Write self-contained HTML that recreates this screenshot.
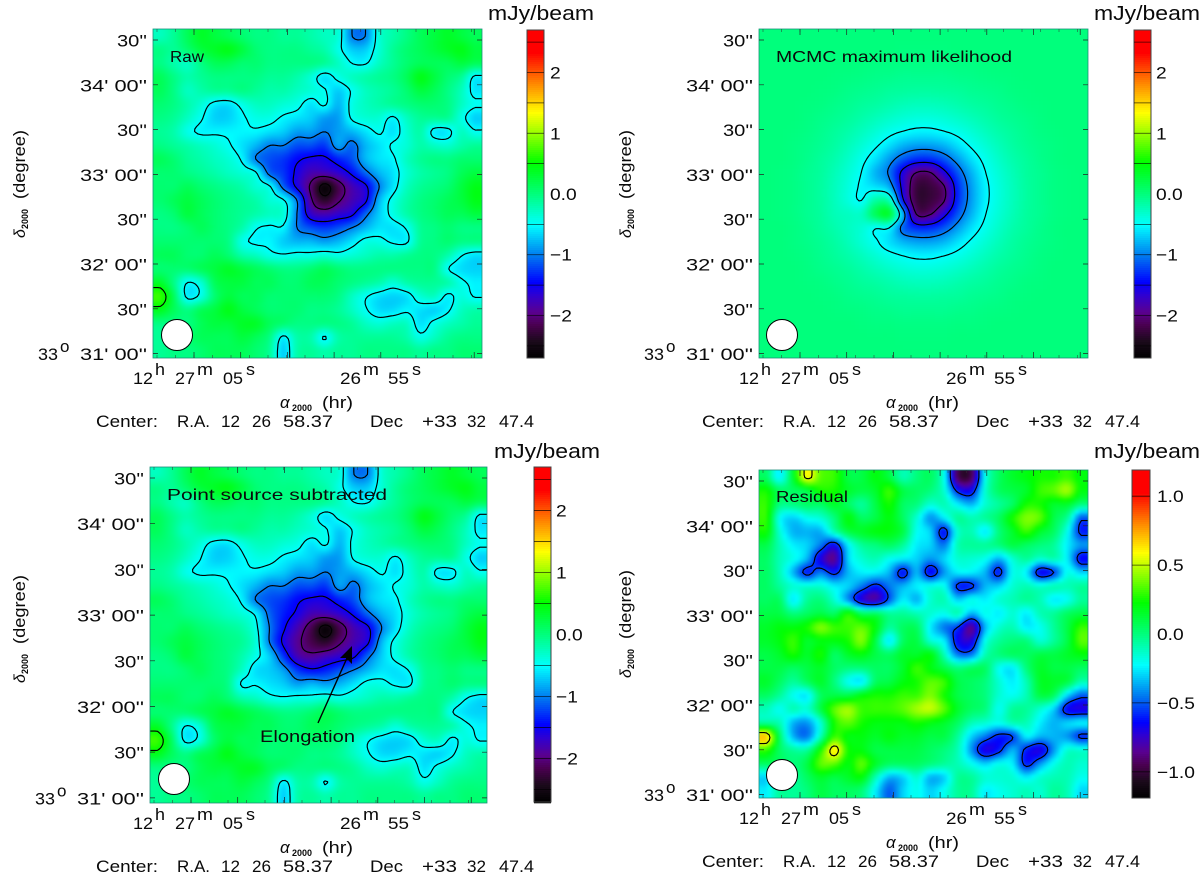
<!DOCTYPE html>
<html lang="en">
<head>
<meta charset="utf-8">
<title>Sky maps: raw, model, point source subtracted, residual</title>
<style>
html,body{margin:0;padding:0;background:#fff;width:1200px;height:875px;overflow:hidden}
svg{display:block;font-family:"Liberation Sans",sans-serif}
text{fill:#0a0a0a}
</style>
</head>
<body>
<svg id="figure" xmlns="http://www.w3.org/2000/svg" width="1200" height="875" viewBox="0 0 1200 875">
<defs>
<filter id="soften" x="-5%" y="-5%" width="110%" height="110%" color-interpolation-filters="sRGB"><feGaussianBlur stdDeviation="1.6"/></filter>
</defs>
</svg>
<script>
// Map values, all in 0.01 mJy/beam.
const rawValues = [
[-27,-10,15,35,25,15,5,-3,-3,-10,-10,-18,-27,-35,-100,-100,-35,-18,-3,15,25,35,25,15],
[-3,-10,5,25,35,42,25,5,-3,-3,-3,-10,-18,-42,-70,-70,-35,-10,5,15,25,35,42,25],
[-3,-18,-27,-3,15,15,5,5,-3,-3,-3,-3,-10,-27,-50,-52,-27,-10,5,15,15,15,25,15],
[15,-3,-18,-10,-3,-3,-3,-3,-10,-10,-18,-35,-62,-42,-27,-18,-10,-3,15,42,25,5,-10,-56],
[15,-3,-27,-18,-10,-10,-3,-10,-18,-18,-27,-35,-47,-70,-47,-27,-18,-10,5,25,15,-3,-25,-60],
[5,-3,-18,-35,-58,-62,-42,-27,-27,-35,-42,-62,-47,-79,-42,-27,-18,-10,-3,5,5,-3,-27,-46],
[-3,-10,-27,-47,-68,-68,-54,-42,-42,-54,-62,-70,-88,-88,-47,-35,-35,-54,-27,-10,-10,-10,-40,-70],
[-10,-18,-42,-54,-54,-54,-54,-54,-62,-70,-88,-88,-100,-88,-79,-62,-47,-62,-35,-18,-58,-58,-27,-46],
[-3,-10,-18,-27,-35,-47,-62,-79,-100,-100,-118,-118,-127,-88,-109,-79,-62,-47,-35,-18,-28,-32,-18,-10],
[15,5,-10,-18,-27,-35,-54,-100,-118,-127,-145,-156,-156,-136,-118,-79,-62,-54,-27,-10,-3,-3,5,5],
[5,5,-3,-10,-18,-27,-35,-47,-109,-127,-156,-180,-180,-168,-145,-109,-79,-62,-35,-18,-10,-3,15,25],
[5,5,15,5,-3,-10,-18,-35,-47,-109,-156,-205,-262,-218,-180,-156,-100,-62,-27,-10,-3,5,25,42],
[5,15,25,15,5,-3,-10,-18,-35,-47,-100,-192,-235,-205,-180,-156,-79,-42,-18,-3,5,15,25,42],
[-3,5,25,15,5,-3,-10,-18,-27,-35,-100,-168,-180,-168,-156,-109,-70,-42,-18,-3,5,15,15,25],
[-3,-3,5,15,5,-3,-18,-47,-54,-54,-100,-118,-127,-118,-100,-79,-62,-62,-47,-10,-3,5,-3,-3],
[5,5,5,5,5,-3,-42,-54,-54,-70,-79,-79,-88,-79,-62,-42,-42,-54,-54,-10,-3,5,-3,-3],
[15,15,5,5,15,5,-18,-27,-42,-47,-42,-42,-35,-42,-35,-27,-18,-18,-10,-3,-3,-18,-48,-62],
[5,5,5,15,25,35,25,15,5,-3,-3,5,15,5,-3,-3,-3,-3,-3,-3,-3,-48,-64,-68],
[35,-3,-50,-35,15,25,25,15,15,5,5,15,15,5,-3,-10,-18,-35,-18,-10,-10,-18,-44,-56],
[70,15,-56,-42,5,25,15,15,5,5,5,5,5,-3,-27,-47,-62,-68,-62,-35,-27,-56,-38,-52],
[40,15,-3,15,25,42,25,15,5,5,5,-3,-3,-10,-27,-47,-64,-64,-54,-62,-68,-54,-27,-18],
[-3,-3,-3,15,25,25,35,35,15,5,-3,-3,-3,-3,-10,-27,-35,-27,-27,-62,-42,-27,-18,-10],
[-10,-3,5,15,15,15,25,15,-3,-56,-18,-18,-52,-18,-10,-10,-10,-10,-18,-42,-27,-10,-3,-3],
[-10,-3,-3,5,15,15,15,5,-10,-70,-18,-10,-18,-10,-10,-3,-3,-3,-3,-10,-3,-3,5,5]
];
const modelValues = [
[0,0,0,0,0,0,0,0,0,0,0,0,0,0,0,0,0,0,0,0,0,0,0,0],
[0,0,0,0,0,0,0,0,0,0,-1,-1,-1,-1,0,0,0,0,0,0,0,0,0,0],
[0,0,0,0,0,0,0,-1,-2,-2,-3,-3,-3,-3,-2,-2,-1,0,0,0,0,0,0,0],
[0,0,0,0,0,-1,-2,-3,-5,-6,-8,-8,-8,-8,-6,-5,-3,-2,-1,0,0,0,0,0],
[0,0,0,0,-1,-2,-5,-7,-9,-12,-13,-14,-14,-13,-12,-9,-7,-5,-2,-1,0,0,0,0],
[0,0,0,-1,-2,-5,-8,-12,-15,-19,-23,-25,-25,-23,-19,-15,-12,-8,-5,-2,-1,0,0,0],
[0,0,0,-2,-5,-8,-12,-18,-24,-30,-35,-38,-38,-35,-30,-24,-18,-12,-8,-5,-2,0,0,0],
[0,0,-1,-3,-7,-12,-18,-26,-35,-44,-51,-56,-56,-51,-44,-35,-26,-18,-12,-7,-3,-1,0,0],
[0,0,-2,-5,-9,-15,-24,-35,-47,-63,-80,-88,-88,-80,-63,-47,-35,-24,-15,-9,-5,-2,0,0],
[0,0,-2,-6,-12,-19,-30,-44,-63,-89,-115,-132,-132,-115,-89,-63,-44,-30,-19,-12,-6,-2,0,0],
[0,-1,-3,-8,-13,-23,-35,-51,-80,-104,-160,-202,-202,-160,-115,-80,-51,-35,-23,-13,-8,-3,-1,0],
[0,-1,-3,-8,-14,-25,-38,-54,-63,-82,-162,-225,-225,-202,-132,-88,-56,-38,-25,-14,-8,-3,-1,0],
[0,-1,-3,-8,-14,-25,-38,-50,-15,-23,-145,-225,-225,-202,-132,-88,-56,-38,-25,-14,-8,-3,-1,0],
[0,-1,-3,-8,-13,-23,-27,-27,15,30,-82,-202,-202,-160,-115,-80,-51,-35,-23,-13,-8,-3,-1,0],
[0,0,-2,-6,-12,-19,-27,-35,-48,-50,-110,-132,-132,-115,-89,-63,-44,-30,-19,-12,-6,-2,0,0],
[0,0,-2,-5,-9,-15,-24,-35,-47,-63,-80,-88,-88,-80,-63,-47,-35,-24,-15,-9,-5,-2,0,0],
[0,0,-1,-3,-7,-12,-18,-26,-35,-44,-51,-56,-56,-51,-44,-35,-26,-18,-12,-7,-3,-1,0,0],
[0,0,0,-2,-5,-8,-12,-18,-24,-30,-35,-38,-38,-35,-30,-24,-18,-12,-8,-5,-2,0,0,0],
[0,0,0,-1,-2,-5,-8,-12,-15,-19,-23,-25,-25,-23,-19,-15,-12,-8,-5,-2,-1,0,0,0],
[0,0,0,0,-1,-2,-5,-7,-9,-12,-13,-14,-14,-13,-12,-9,-7,-5,-2,-1,0,0,0,0],
[0,0,0,0,0,-1,-2,-3,-5,-6,-8,-8,-8,-8,-6,-5,-3,-2,-1,0,0,0,0,0],
[0,0,0,0,0,0,0,-1,-2,-2,-3,-3,-3,-3,-2,-2,-1,0,0,0,0,0,0,0],
[0,0,0,0,0,0,0,0,0,0,-1,-1,-1,-1,0,0,0,0,0,0,0,0,0,0],
[0,0,0,0,0,0,0,0,0,0,0,0,0,0,0,0,0,0,0,0,0,0,0,0]
];
const subtractedValues = [
[-27,-10,15,35,25,15,5,-3,-3,-10,-10,-18,-27,-35,-100,-100,-35,-18,-3,15,25,35,25,15],
[-3,-10,5,25,35,42,25,5,-3,-3,-3,-10,-18,-42,-70,-70,-35,-10,5,15,25,35,42,25],
[-3,-18,-27,-3,15,15,5,5,-3,-3,-3,-3,-10,-27,-50,-52,-27,-10,5,15,15,15,25,15],
[15,-3,-18,-10,-3,-3,-3,-3,-10,-10,-18,-35,-62,-42,-27,-18,-10,-3,15,42,25,5,-10,-56],
[15,-3,-27,-18,-10,-10,-3,-10,-18,-18,-27,-35,-47,-70,-47,-27,-18,-10,5,25,15,-3,-25,-60],
[5,-3,-18,-35,-58,-62,-42,-27,-27,-35,-42,-62,-47,-79,-42,-27,-18,-10,-3,5,5,-3,-27,-46],
[-3,-10,-27,-47,-68,-68,-54,-42,-42,-54,-62,-70,-88,-88,-47,-35,-35,-54,-27,-10,-10,-10,-40,-70],
[-10,-18,-42,-54,-54,-54,-54,-54,-62,-70,-88,-88,-100,-88,-79,-62,-47,-62,-35,-18,-58,-58,-27,-46],
[-3,-10,-18,-27,-35,-47,-62,-79,-100,-100,-118,-118,-127,-88,-109,-79,-62,-47,-35,-18,-28,-32,-18,-10],
[15,5,-10,-18,-27,-35,-54,-100,-118,-127,-145,-156,-156,-136,-118,-79,-62,-54,-27,-10,-3,-3,5,5],
[5,5,-3,-10,-18,-27,-35,-54,-109,-136,-156,-180,-180,-168,-145,-109,-79,-62,-35,-18,-10,-3,15,25],
[5,5,15,5,-3,-10,-18,-42,-100,-145,-180,-218,-262,-218,-180,-156,-100,-62,-27,-10,-3,5,25,42],
[5,15,25,15,5,-3,-10,-35,-100,-156,-192,-218,-235,-205,-180,-156,-79,-42,-18,-3,5,15,25,42],
[-3,5,25,15,5,-3,-18,-42,-70,-127,-180,-192,-180,-168,-156,-109,-70,-42,-18,-3,5,15,15,25],
[-3,-3,5,15,5,-3,-27,-62,-70,-88,-127,-145,-136,-118,-100,-79,-62,-62,-47,-10,-3,5,-3,-3],
[5,5,5,5,5,-3,-52,-52,-62,-70,-88,-79,-88,-79,-62,-42,-42,-54,-54,-10,-3,5,-3,-3],
[15,15,5,5,15,5,-18,-27,-42,-47,-42,-42,-35,-42,-35,-27,-18,-18,-10,-3,-3,-18,-48,-62],
[5,5,5,15,25,35,25,15,5,-3,-3,5,15,5,-3,-3,-3,-3,-3,-3,-3,-48,-64,-68],
[35,-3,-50,-35,15,25,25,15,15,5,5,15,15,5,-3,-10,-18,-35,-18,-10,-10,-18,-44,-56],
[70,15,-56,-42,5,25,15,15,5,5,5,5,5,-3,-27,-47,-62,-68,-62,-35,-27,-56,-38,-52],
[40,15,-3,15,25,42,25,15,5,5,5,-3,-3,-10,-27,-47,-64,-64,-54,-62,-68,-54,-27,-18],
[-3,-3,-3,15,25,25,35,35,15,5,-3,-3,-3,-3,-10,-27,-35,-27,-27,-62,-42,-27,-18,-10],
[-10,-3,5,15,15,15,25,15,-3,-56,-18,-18,-52,-18,-10,-10,-10,-10,-18,-42,-27,-10,-3,-3],
[-10,-3,-3,5,15,15,15,5,-10,-70,-18,-10,-18,-10,-10,-3,-3,-3,-3,-10,-3,-3,5,5]
];
const residualValues = [
[5,-25,15,60,35,30,10,10,20,10,-10,0,5,-20,-95,-95,-20,5,15,20,25,25,30,20],
[25,5,5,10,25,25,15,10,15,30,10,5,0,-15,-60,-65,-15,5,10,15,30,35,45,20],
[30,0,0,5,5,15,5,-5,10,25,5,0,-15,-10,-25,-35,-15,-5,5,25,25,15,15,0],
[30,-20,-30,-20,-15,0,20,5,10,20,5,-15,-40,-25,-5,-10,-5,5,25,40,35,10,-5,-50],
[25,-15,-35,-35,-35,-10,10,15,20,20,10,-20,-30,-62,-15,-10,-25,0,15,30,15,5,-20,-60],
[10,-10,-25,-30,-45,-65,-25,-5,0,5,-5,-25,-30,-45,-10,-5,-5,0,10,5,0,-5,-25,-40],
[5,-10,-20,-35,-70,-85,-30,-15,-10,-20,-25,-30,-40,-30,-15,-15,-20,-35,-15,-5,-15,-10,-25,-65],
[5,-10,-35,-60,-45,-60,-35,-25,-25,-35,-62,-35,-65,-40,-25,-25,-35,-60,-20,-25,-65,-55,-20,-30],
[5,-5,-15,-15,-15,-25,-30,-45,-60,-45,-35,-25,-20,-20,-58,-58,-35,-30,-15,-10,-15,-10,-10,-5],
[5,5,-25,-5,0,-15,-40,-70,-80,-50,-25,-35,-15,-10,-30,-20,-25,-15,-10,-5,-10,-25,-20,-5],
[10,10,0,5,10,5,25,5,5,-5,-5,-10,-15,-20,-10,-35,-20,-25,-15,-25,-10,-5,5,10],
[15,20,20,25,40,30,30,35,20,-5,5,5,-25,-45,-55,-85,-35,-15,-10,-25,-20,-5,10,30],
[15,20,30,15,20,20,25,40,10,-25,5,10,-15,-25,-65,-70,-20,-5,0,0,-15,-5,10,35],
[10,15,25,15,25,5,15,20,10,5,15,15,20,-10,-45,-45,-10,0,5,5,10,10,15,20],
[10,10,5,10,15,5,0,0,5,5,15,30,20,10,0,5,5,-20,-25,0,15,10,10,5],
[15,5,-5,5,15,0,-20,-25,5,10,20,25,35,30,10,5,0,-15,-25,-10,15,15,10,-10],
[5,-5,-20,-25,5,10,10,20,25,25,30,30,40,25,10,5,0,-15,-20,-10,10,5,-30,-50],
[-10,-20,-10,-15,10,35,45,30,30,30,35,45,50,35,15,5,0,-20,-5,-5,-15,-30,-65,-70],
[-5,-10,-35,-40,-15,25,35,25,20,20,20,25,20,15,5,-10,-15,-20,-10,-10,-25,-35,-30,-25],
[70,5,-35,-45,-10,30,20,20,15,20,15,15,10,10,-5,-30,-45,-60,-55,-25,-35,-35,-40,-58],
[30,5,-5,-5,25,62,25,20,10,10,10,10,5,0,-10,-40,-70,-60,-35,-60,-70,-40,-15,-15],
[5,5,0,10,35,35,20,35,15,5,5,5,0,-5,-10,-20,-30,-20,-25,-60,-40,-20,-10,-15],
[-30,0,-5,5,15,10,15,20,-10,-35,-30,-15,-35,-30,-5,-5,-15,-15,-15,-25,-15,-10,-10,-20],
[-25,-5,-5,0,10,5,5,0,-25,-50,-30,-20,-30,-20,-5,-5,-25,-20,-15,-10,-15,-5,-10,-30]
];
const brightLevels = [-0.5,-1,-1.5,-2,-2.5,0.5];
const modelLevels = [-0.5,-1,-1.5,-2];
const residualLevels = [-0.55,-1.1,0.55];
const brightBarTicks = [2,1,0,-1,-2];
const brightBarLabels = ["2","1","0.0","\u22121","\u22122"];
const brightBarLines = [2.5,2,1.5,1,0.5,-0.5,-1,-1.5,-2,-2.5];
const residualBarTicks = [1,0.5,0,-0.5,-1];
const residualBarLabels = ["1.0","0.5","0.0","\u22120.5","\u22121.0"];
const residualBarLines = [1,0.5,-0.5,-1];
const decTickLabels = ["30''","34' 00''","30''","33' 00''","30''","32' 00''","30''","31' 00''"];
const decTickIndex = [0,1,2,3,4,5,6,7];
const raMajorIndex = [0,1,2,3,4,5,6];
const raMinorIndex = [0,1,2,3,4,5,6,7,8,9,10,11,12,13,14,15,16,17];

const panels = [
 {key:'raw',title:'Raw',tx:170,ty:62,tw:34,x:153,y:29,w:329,h:329,dx:0,dy:0,values:rawValues,vmax:2.7,levels:brightLevels,tick0:40,tickStep:44.8,tickRight:147,bar:[527,30,17,328],barX:550,barTicks:brightBarTicks,barLabels:brightBarLabels,barLines:brightBarLines,beam:[177,335],unitX:488,unitY:20},
 {key:'model',title:'MCMC maximum likelihood',tx:776,ty:62,tw:236,x:759,y:29,w:329,h:329,dx:606,dy:0,values:modelValues,vmax:2.7,levels:modelLevels,tick0:40,tickStep:44.8,tickRight:753,bar:[1134,30,17,328],barX:1156,barTicks:brightBarTicks,barLabels:brightBarLabels,barLines:brightBarLines,beam:[782,335],unitX:1094,unitY:20},
 {key:'subtracted',title:'Point source subtracted',tx:167,ty:500,tw:220,x:150,y:467,w:337,h:336,dx:0,dy:445,values:subtractedValues,vmax:2.7,levels:brightLevels,tick0:478,tickStep:45.7,tickRight:144,bar:[534,467,17,335],barX:556,barTicks:brightBarTicks,barLabels:brightBarLabels,barLines:brightBarLines,beam:[174,779],unitX:494,unitY:458},
 {key:'residual',title:'Residual',tx:776,ty:502,tw:72,x:759,y:470,w:329,h:328,dx:606,dy:440,values:residualValues,vmax:1.19,levels:residualLevels,tick0:481,tickStep:44.8,tickRight:753,bar:[1132,470,18,328],barX:1157,barTicks:residualBarTicks,barLabels:residualBarLabels,barLines:residualBarLines,beam:[782,775],unitX:1094,unitY:458}
];

const colorStops = [[0,0,0,0],[.05,26,10,26],[.10,74,0,80],[.14,90,0,144],[.19,48,0,208],[.23,0,0,255],[.31,0,120,240],[.405,0,255,255],[.497,0,255,128],[.595,0,255,0],[.67,128,255,0],[.747,255,255,0],[.83,255,144,0],[.93,255,0,0],[1,255,0,0]];

const NS = 'http://www.w3.org/2000/svg';
const root = document.getElementById('figure');

function make(tag, attrs, parent){
  const n = document.createElementNS(NS, tag);
  for (const k in attrs) n.setAttribute(k, attrs[k]);
  parent.appendChild(n);
  return n;
}
function addText(parent, str, x, y, size, extra){
  const n = make('text', Object.assign({x:x, y:y, 'font-size':size}, extra || {}), parent);
  n.textContent = str;
  if (n.hasAttribute('textLength')) n.setAttribute('lengthAdjust', 'spacingAndGlyphs');
  return n;
}
function widen(n, k){
  n.setAttribute('textLength', (n.getComputedTextLength()*k).toFixed(1));
  n.setAttribute('lengthAdjust', 'spacingAndGlyphs');
}
function colorOf(f){
  f = Math.max(0, Math.min(1, f));
  for (let i = 1; i < colorStops.length; i++){
    const a = colorStops[i-1], b = colorStops[i];
    if (f <= b[0]){
      const t = (f - a[0]) / (b[0] - a[0]);
      return 'rgb(' + Math.round(a[1]+(b[1]-a[1])*t) + ',' + Math.round(a[2]+(b[2]-a[2])*t) + ',' + Math.round(a[3]+(b[3]-a[3])*t) + ')';
    }
  }
  return '#f00';
}
function cubic(a,b,c,d,t){
  return b + 0.5*t*(c-a + t*(2*a-5*b+4*c-d + t*(3*(b-c)+d-a)));
}
function sampler(p){
  const N = p.values.length, M = p.values[0].length;
  const at = (r,c) => p.values[Math.max(0,Math.min(N-1,r))][Math.max(0,Math.min(M-1,c))] / 100;
  return function(px, py){
    const gx = Math.max(0, Math.min(M-1, (px - p.x) / p.w * M - 0.5));
    const gy = Math.max(0, Math.min(N-1, (py - p.y) / p.h * N - 0.5));
    const cx = Math.floor(gx), cy = Math.floor(gy), tx = gx-cx, ty = gy-cy;
    const col = [];
    for (let j = -1; j <= 2; j++){
      col.push(cubic(at(cy+j,cx-1), at(cy+j,cx), at(cy+j,cx+1), at(cy+j,cx+2), tx));
    }
    return cubic(col[0],col[1],col[2],col[3],ty);
  };
}
function contourPath(f, p, level){
  const step = 2.5, nx = Math.ceil(p.w/step), ny = Math.ceil(p.h/step);
  const v = [];
  for (let j = 0; j <= ny; j++){
    const row = [];
    for (let i = 0; i <= nx; i++) row.push(f(p.x+Math.min(i*step,p.w), p.y+Math.min(j*step,p.h)));
    v.push(row);
  }
  let d = '';
  const X = i => p.x + Math.min(i*step,p.w), Y = j => p.y + Math.min(j*step,p.h);
  for (let j = 0; j < ny; j++){
    for (let i = 0; i < nx; i++){
      const a = v[j][i], b = v[j][i+1], c = v[j+1][i+1], e = v[j+1][i];
      const pts = [];
      if ((a<level)!==(b<level)) pts.push([X(i)+(level-a)/(b-a)*(X(i+1)-X(i)), Y(j)]);
      if ((b<level)!==(c<level)) pts.push([X(i+1), Y(j)+(level-b)/(c-b)*(Y(j+1)-Y(j))]);
      if ((e<level)!==(c<level)) pts.push([X(i)+(level-e)/(c-e)*(X(i+1)-X(i)), Y(j+1)]);
      if ((a<level)!==(e<level)) pts.push([X(i), Y(j)+(level-a)/(e-a)*(Y(j+1)-Y(j))]);
      for (let k = 0; k+1 < pts.length; k += 2){
        d += 'M' + pts[k][0].toFixed(1) + ' ' + pts[k][1].toFixed(1) + 'L' + pts[k+1][0].toFixed(1) + ' ' + pts[k+1][1].toFixed(1);
      }
    }
  }
  return d;
}

panels.forEach(function(p){
  const group = make('g', {}, root);
  
  

  // heatmap
  const clipId = 'clip-' + p.key;
  const defs = make('clipPath', {id:clipId}, group);
  make('rect', {x:p.x, y:p.y, width:p.w, height:p.h}, defs);
  const clipped = make('g', {'clip-path':'url(#' + clipId + ')'}, group);
  const heat = make('g', {filter:'url(#soften)'}, clipped);
  
  
  const f = sampler(p), cell = 4;
  for (let py = p.y-8; py < p.y+p.h+8; py += cell){
    for (let px = p.x-8; px < p.x+p.w+8; px += cell){
      const value = f(px+cell/2, py+cell/2);
      const r = make('rect', {x:px, y:py, width:cell+0.3, height:cell+0.3, fill:colorOf((value+p.vmax)/(2*p.vmax))}, heat);
      
      
    }
  }
  // contours
  p.levels.forEach(function(level){
    const c = make('path', {d:contourPath(f,p,level), fill:'none', stroke:'#000', 'stroke-width':1.15, 'stroke-linecap':'round'}, clipped);
    
    
  });
  // frame
  const frame = make('rect', {x:p.x, y:p.y, width:p.w, height:p.h, fill:'none', stroke:'#1f8f7a', 'stroke-width':0.8}, group);
  
  

  // y ticks
  const decScale = i => p.tick0 + i * p.tickStep;
  decTickIndex.forEach(function(i){
    const y = decScale(i);
    const tk = make('path', {d:'M'+p.x+' '+y+'h5M'+(p.x+p.w)+' '+y+'h-5', stroke:'#222', 'stroke-width':0.7}, group);
    
    
    const len = decTickLabels[i].length <= 4 ? 30 : 67;
    const lab = addText(group, decTickLabels[i], p.tickRight-len, y+6.5, 17, {textLength:len});
    
    
  });
  const degY = decScale(7) + 6.5;
  const deg = addText(group, '33', p.tickRight-109, degY, 17, {textLength:20});
  
  
  const degO = addText(group, 'o', p.tickRight-87, degY-8, 17);
  
  

  // x ticks
  const raMajor = i => p.x + 41 + i*46.7;
  const raMinor = i => p.x + 4 + i*18.5;
  raMajorIndex.forEach(function(i){
    const x = raMajor(i);
    const tk = make('path', {d:'M'+x+' '+(p.y+p.h)+'v-6M'+x+' '+p.y+'v6', stroke:'#222', 'stroke-width':0.7}, group);
    
    
  });
  raMinorIndex.forEach(function(i){
    const x = raMinor(i);
    const tk = make('path', {d:'M'+x+' '+(p.y+p.h)+'v-3M'+x+' '+p.y+'v3', stroke:'#333', 'stroke-width':0.5}, group);
    
    
  });
  const parts = [['12',133,20,0],['h',155,10,1],['27',175,20,0],['m',197,16,1],['05',223,20,0],['s',246,9,1],['26',340,21,0],['m',363,16,1],['55',388,21,0],['s',412,9,1]];
  parts.forEach(function(q){
    const t = addText(group, q[0], q[1]+p.dx, (q[3] ? 375 : 384)+p.dy, 17, {textLength:q[2]});
    
    
  });

  // x title
  const xa = addText(group, '\u03B1', 280+p.dx, 408+p.dy, 17, {'font-style':'italic'});
  
  
  const xb = addText(group, '2000', 292+p.dx, 411+p.dy, 9, {'font-weight':'bold'});
  
  
  const xc = addText(group, '(hr)', 322+p.dx, 408+p.dy, 17, {textLength:31});
  
  

  // center line
  const centerParts = [['Center:',96,62],['R.A.',177,33],['12',221,19],['26',252,19],['58.37',283,50],['Dec',370,33],['+33',422,35],['32',467,19],['47.4',499,35]];
  centerParts.forEach(function(q){
    const t = addText(group, q[0], q[1]+p.dx, 427+p.dy, 16.5, {textLength:q[2]});
    
    
  });

  // y title
  const yt = make('g', {transform:'translate(' + (25+p.dx) + ',' + (238+p.dy) + ') rotate(-90)'}, group);
  
  
  const ya = addText(yt, '\u03B4', 0, 0, 16, {'font-style':'italic'});
  
  
  const yb = addText(yt, '2000', 9, 3, 9, {'font-weight':'bold'});
  
  
  const yc = addText(yt, '(degree)', 39, 0, 16.5, {textLength:69});
  
  

  // panel title
  const ti = addText(group, p.title, p.tx, p.ty, 16, {textLength:p.tw});
  
  

  // beam
  const beam = make('circle', {cx:p.beam[0], cy:p.beam[1], r:15.5, fill:'#fff', stroke:'#000', 'stroke-width':1}, group);
  
  

  // colour bar
  const bx = p.bar[0], by = p.bar[1], bw = p.bar[2], bh = p.bar[3];
  const barY = v => by + bh/2 - v/p.vmax*bh/2;
  for (let py = 0; py < bh; py += 2){
    const seg = make('rect', {x:bx, y:by+py, width:bw, height:2.3, fill:colorOf(1-(py+1)/bh)}, group);
    
    
  }
  const bf = make('rect', {x:bx, y:by, width:bw, height:bh, fill:'none', stroke:'#444', 'stroke-width':1}, group);
  
  
  p.barLines.forEach(function(v){
    const l = make('line', {x1:bx, x2:bx+bw, y1:barY(v), y2:barY(v), stroke:'#000', 'stroke-width':0.8, 'stroke-opacity':0.75}, group);
    
    
  });
  p.barTicks.forEach(function(v,i){
    const t = addText(group, p.barLabels[i], p.barX, barY(v)+6, 17);
    widen(t, 1.13);
    
    
  });
  const unit = addText(group, 'mJy/beam', p.unitX, p.unitY, 20, {textLength:106});
  
  
});

// annotation on the subtracted map
const arrowLine = make('line', {x1:318, y1:723, x2:347, y2:658, stroke:'#000', 'stroke-width':1.4}, root);


const arrowHead = make('path', {d:'M352 646L352 664L346 658L340 658Z', fill:'#000'}, root);


const elong = addText(root, 'Elongation', 260, 742, 17, {textLength:95});


</script>
</body>
</html>
